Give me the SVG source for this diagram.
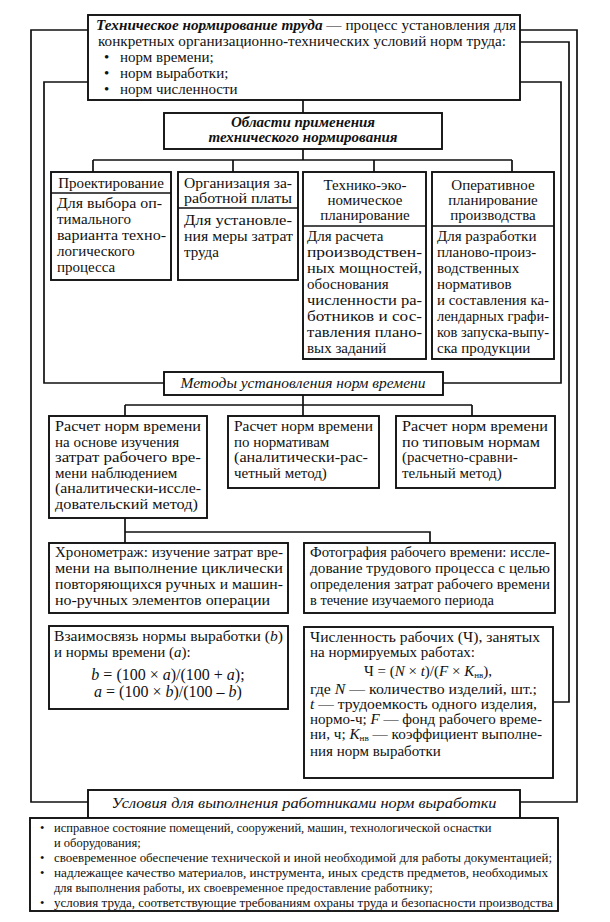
<svg xmlns="http://www.w3.org/2000/svg" width="610" height="922" viewBox="0 0 610 922" font-family="Liberation Serif, DejaVu Serif, serif">
<style>
text{font-size:15px;fill:#111}
.box{fill:#fff;stroke:#111;stroke-width:1.9}
.sep{stroke:#111;stroke-width:1.5}
.conn{fill:none;stroke:#111;stroke-width:1.7}
.c{text-anchor:middle}
.bi{font-weight:bold;font-style:italic}
.i{font-style:italic}
.sm{font-size:12.5px}
.f{font-size:16px}
</style>
<rect width="610" height="922" fill="#fff"/>
<g id="connectors">
<path class="conn" d="M88,30 H31 V802 H88"/>
<path class="conn" d="M88,82 H44 V383 H164"/>
<path class="conn" d="M520,82 H561 V383 H443"/>
<path class="conn" d="M520,42 H569 V702 H553"/>
<path class="conn" d="M520,30 H577 V802 H520"/>
<path class="conn" d="M303,100 V113"/>
<path class="conn" d="M303,149 V160 M93,160 H512 M93,160 V172 M233,160 V172 M374,160 V172 M512,160 V172"/>
<path class="conn" d="M303,395 V416 M125,405 H472 M125,405 V416 M472,405 V416"/>
<path class="conn" d="M125,518 V543 M125,532 H430 V543"/>
</g>
<g id="definition">
<rect class="box" x="88" y="15" width="432" height="85"/>
<text x="96" y="30" textLength="420" lengthAdjust="spacingAndGlyphs"><tspan class="bi">Техническое нормирование труда</tspan> — процесс установления для</text>
<text x="98" y="46" textLength="408" lengthAdjust="spacingAndGlyphs">конкретных организационно-технических условий норм труда:</text>
<text x="104" y="62">•</text><text x="120" y="62">норм времени;</text>
<text x="104" y="78">•</text><text x="120" y="78">норм выработки;</text>
<text x="104" y="94">•</text><text x="120" y="94">норм численности</text>
</g>
<g id="areas">
<rect class="box" x="164" y="113" width="278" height="36"/>
<text class="bi c" x="303" y="127">Области применения</text>
<text class="bi c" x="303" y="142">технического нормирования</text>
</g>
<g id="design">
<rect class="box" x="51" y="172" width="120" height="108"/>
<line class="sep" x1="51" y1="193" x2="171" y2="193"/>
<text class="c" x="111" y="188">Проектирование</text>
<text x="57" y="208" textLength="105" lengthAdjust="spacingAndGlyphs">Для выбора оп-</text>
<text x="57" y="224">тимального</text>
<text x="57" y="240" textLength="109" lengthAdjust="spacingAndGlyphs">варианта техно-</text>
<text x="57" y="256">логического</text>
<text x="57" y="272">процесса</text>
</g>
<g id="wages">
<rect class="box" x="178" y="172" width="120" height="108"/>
<line class="sep" x1="178" y1="208" x2="298" y2="208"/>
<text x="184" y="188" textLength="108" lengthAdjust="spacingAndGlyphs">Организация за-</text>
<text x="184" y="203" textLength="108" lengthAdjust="spacingAndGlyphs">работной платы</text>
<text x="184" y="225" textLength="108" lengthAdjust="spacingAndGlyphs">Для установле-</text>
<text x="184" y="241" textLength="109" lengthAdjust="spacingAndGlyphs">ния меры затрат</text>
<text x="184" y="257">труда</text>
</g>
<g id="techeco">
<rect class="box" x="303" y="172" width="123" height="187"/>
<line class="sep" x1="303" y1="226" x2="426" y2="226"/>
<text class="c" x="365" y="190">Технико-эко-</text>
<text class="c" x="365" y="205">номическое</text>
<text class="c" x="365" y="220">планирование</text>
<text x="307" y="241">Для расчета</text>
<text x="307" y="257" textLength="115" lengthAdjust="spacingAndGlyphs">производствен-</text>
<text x="307" y="273" textLength="115" lengthAdjust="spacingAndGlyphs">ных мощностей,</text>
<text x="307" y="289">обоснования</text>
<text x="307" y="305" textLength="115" lengthAdjust="spacingAndGlyphs">численности ра-</text>
<text x="307" y="321" textLength="115" lengthAdjust="spacingAndGlyphs">ботников и сос-</text>
<text x="307" y="337" textLength="115" lengthAdjust="spacingAndGlyphs">тавления плано-</text>
<text x="307" y="353">вых заданий</text>
</g>
<g id="operative">
<rect class="box" x="432" y="172" width="122" height="187"/>
<line class="sep" x1="432" y1="226" x2="554" y2="226"/>
<text class="c" x="493" y="190">Оперативное</text>
<text class="c" x="493" y="205">планирование</text>
<text class="c" x="493" y="220">производства</text>
<text x="437" y="241">Для разработки</text>
<text x="437" y="257">планово-произ-</text>
<text x="437" y="273">водственных</text>
<text x="437" y="289">нормативов</text>
<text x="437" y="305" textLength="112" lengthAdjust="spacingAndGlyphs">и составления ка-</text>
<text x="437" y="321" textLength="112" lengthAdjust="spacingAndGlyphs">лендарных графи-</text>
<text x="437" y="337" textLength="112" lengthAdjust="spacingAndGlyphs">ков запуска-выпу-</text>
<text x="437" y="353">ска продукции</text>
</g>
<g id="methods">
<rect class="box" x="164" y="372" width="279" height="23"/>
<text class="i c" x="303" y="388" textLength="245" lengthAdjust="spacingAndGlyphs">Методы установления норм времени</text>
</g>
<g id="method-observation">
<rect class="box" x="49" y="416" width="158" height="102"/>
<text x="55" y="431" textLength="146" lengthAdjust="spacingAndGlyphs">Расчет норм времени</text>
<text x="55" y="446.6">на основе изучения</text>
<text x="55" y="462.2" textLength="146" lengthAdjust="spacingAndGlyphs">затрат рабочего вре-</text>
<text x="55" y="477.8">мени наблюдением</text>
<text x="55" y="493.4" textLength="146" lengthAdjust="spacingAndGlyphs">(аналитически-иссле-</text>
<text x="55" y="509" textLength="143" lengthAdjust="spacingAndGlyphs">довательский метод)</text>
</g>
<g id="method-normatives">
<rect class="box" x="228" y="416" width="151" height="72"/>
<text x="234" y="431" textLength="139" lengthAdjust="spacingAndGlyphs">Расчет норм времени</text>
<text x="234" y="446.6">по нормативам</text>
<text x="234" y="462.2" textLength="134" lengthAdjust="spacingAndGlyphs">(аналитически-рас-</text>
<text x="234" y="477.8">четный метод)</text>
</g>
<g id="method-typical">
<rect class="box" x="396" y="416" width="159" height="72"/>
<text x="402" y="431" textLength="146" lengthAdjust="spacingAndGlyphs">Расчет норм времени</text>
<text x="402" y="446.6" textLength="138" lengthAdjust="spacingAndGlyphs">по типовым нормам</text>
<text x="402" y="462.2">(расчетно-сравни-</text>
<text x="402" y="477.8">тельный метод)</text>
</g>
<g id="timing">
<rect class="box" x="49" y="543" width="239" height="70"/>
<text x="55" y="557" textLength="228" lengthAdjust="spacingAndGlyphs">Хронометраж: изучение затрат вре-</text>
<text x="55" y="573" textLength="228" lengthAdjust="spacingAndGlyphs">мени на выполнение циклически</text>
<text x="55" y="589" textLength="228" lengthAdjust="spacingAndGlyphs">повторяющихся ручных и машин-</text>
<text x="55" y="605" textLength="215" lengthAdjust="spacingAndGlyphs">но-ручных элементов операции</text>
</g>
<g id="photo">
<rect class="box" x="304" y="543" width="251" height="70"/>
<text x="310" y="557" textLength="240" lengthAdjust="spacingAndGlyphs">Фотография рабочего времени: иссле-</text>
<text x="310" y="573" textLength="240" lengthAdjust="spacingAndGlyphs">дование трудового процесса с целью</text>
<text x="310" y="589" textLength="240" lengthAdjust="spacingAndGlyphs">определения затрат рабочего времени</text>
<text x="310" y="605" textLength="184" lengthAdjust="spacingAndGlyphs">в течение изучаемого периода</text>
</g>
<g id="relation">
<rect class="box" x="49" y="626" width="239" height="83"/>
<text x="54" y="641" textLength="229" lengthAdjust="spacingAndGlyphs">Взаимосвязь нормы выработки (<tspan class="i">b</tspan>)</text>
<text x="54" y="657">и нормы времени (<tspan class="i">a</tspan>):</text>
<text class="c f" x="168" y="680"><tspan class="i">b</tspan> = (100 × <tspan class="i">a</tspan>)/(100 + <tspan class="i">a</tspan>);</text>
<text class="c f" x="168" y="697"><tspan class="i">a</tspan> = (100 × <tspan class="i">b</tspan>)/(100 – <tspan class="i">b</tspan>)</text>
</g>
<g id="headcount">
<rect class="box" x="304" y="627" width="249" height="151"/>
<text x="310" y="642" textLength="230" lengthAdjust="spacingAndGlyphs">Численность рабочих (Ч), занятых</text>
<text x="310" y="657">на нормируемых работах:</text>
<text class="c" x="428" y="676">Ч = (<tspan class="i">N</tspan> × <tspan class="i">t</tspan>)/(<tspan class="i">F</tspan> × <tspan class="i">K</tspan><tspan font-size="9" dy="2">нв</tspan><tspan dy="-2">),</tspan></text>
<text x="310" y="694" textLength="227" lengthAdjust="spacingAndGlyphs">где <tspan class="i">N</tspan> — количество изделий, шт.;</text>
<text x="310" y="709" textLength="227" lengthAdjust="spacingAndGlyphs"><tspan class="i">t</tspan> — трудоемкость одного изделия,</text>
<text x="310" y="724" textLength="232" lengthAdjust="spacingAndGlyphs">нормо-ч; <tspan class="i">F</tspan> — фонд рабочего време-</text>
<text x="310" y="739" textLength="232" lengthAdjust="spacingAndGlyphs">ни, ч; <tspan class="i">K</tspan><tspan font-size="9" dy="2">нв</tspan><tspan dy="-2"> — коэффициент выполне-</tspan></text>
<text x="310" y="756">ния норм выработки</text>
</g>
<g id="conditions">
<rect class="box" x="88" y="790" width="432" height="28"/>
<text class="i c" x="304" y="808" textLength="385" lengthAdjust="spacingAndGlyphs">Условия для выполнения работниками норм выработки</text>
</g>
<g id="conditions-list">
<rect class="box" x="30" y="818" width="528" height="93"/>
<text class="sm" x="40" y="832">•</text>
<text class="sm" x="54" y="832">исправное состояние помещений, сооружений, машин, технологической оснастки</text>
<text class="sm" x="54" y="847">и оборудования;</text>
<text class="sm" x="40" y="862">•</text>
<text class="sm" x="54" y="862" textLength="498" lengthAdjust="spacingAndGlyphs">своевременное обеспечение технической и иной необходимой для работы документацией;</text>
<text class="sm" x="40" y="877">•</text>
<text class="sm" x="54" y="877" textLength="494" lengthAdjust="spacingAndGlyphs">надлежащее качество материалов, инструмента, иных средств предметов, необходимых</text>
<text class="sm" x="54" y="892">для выполнения работы, их своевременное предоставление работнику;</text>
<text class="sm" x="40" y="907">•</text>
<text class="sm" x="54" y="907" textLength="499" lengthAdjust="spacingAndGlyphs">условия труда, соответствующие требованиям охраны труда и безопасности производства</text>
</g>
</svg>
